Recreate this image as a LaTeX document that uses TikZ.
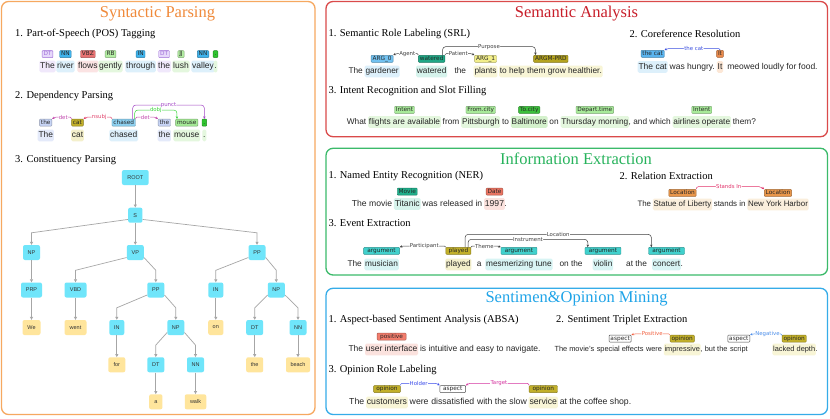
\documentclass[tikz,border=0pt]{standalone}
\usepackage{fontspec}
\setmainfont{Liberation Serif}
\setsansfont{Liberation Sans}
\newfontfamily\dejav{DejaVu Sans}
\usetikzlibrary{arrows.meta,calc,positioning}
% panel colours
\definecolor{orT}{HTML}{F08A3A}\definecolor{orB}{HTML}{F6A860}
\definecolor{rdT}{HTML}{C81E2A}\definecolor{rdB}{HTML}{DA4A4A}
\definecolor{gnT}{HTML}{27B35C}\definecolor{gnB}{HTML}{3BBA6A}
\definecolor{blT}{HTML}{1FA4E8}\definecolor{blB}{HTML}{35ACE8}
% highlight colours
\definecolor{hPur}{HTML}{F0E8FB}\definecolor{hLav}{HTML}{E4EAFA}
\definecolor{hBlu}{HTML}{DDF0FB}\definecolor{hRed}{HTML}{FBE3E3}
\definecolor{hGrn}{HTML}{E4F7DE}\definecolor{hGr2}{HTML}{D4F1CC}
\definecolor{hOli}{HTML}{F4F0CC}\definecolor{hTea}{HTML}{D6F3EC}
\definecolor{hYel}{HTML}{F8F5D6}\definecolor{hOra}{HTML}{FCE7D6}
\definecolor{hPnk}{HTML}{FBE2DE}\definecolor{hCya}{HTML}{D8F4F4}
\definecolor{hLoc}{HTML}{FAEEDC}
% tag colours
\definecolor{tPur}{HTML}{E6D8FA}\definecolor{vio}{HTML}{A070D8}
\definecolor{tBlu}{HTML}{3FB3EC}\definecolor{tRed}{HTML}{E87272}
\definecolor{tLgr}{HTML}{B4EEA4}\definecolor{tGrn}{HTML}{2FC42F}
\definecolor{tOli}{HTML}{C2B02A}\definecolor{tTea}{HTML}{1FA886}
\definecolor{tMov}{HTML}{20AF8B}\definecolor{tA0}{HTML}{72C2F1}
\definecolor{tYel}{HTML}{F2EE8A}\definecolor{tPrd}{HTML}{B4A31F}
\definecolor{tCat}{HTML}{5AB4EF}\definecolor{tIt}{HTML}{E98A4C}
\definecolor{tInt}{HTML}{A8EA9A}\definecolor{tTo}{HTML}{3CC03C}
\definecolor{tDate}{HTML}{EB7563}\definecolor{tLoc}{HTML}{E9964A}
\definecolor{tArg}{HTML}{40D0CC}\definecolor{tPos}{HTML}{F27D6D}
\definecolor{tThe}{HTML}{C8D5F6}\definecolor{tChs}{HTML}{8ED2F2}
\definecolor{tMou}{HTML}{A6EB98}
% arc colours
\definecolor{cDet}{HTML}{C24AAE}\definecolor{cNs}{HTML}{E2466E}
\definecolor{cDo}{HTML}{3DD63D}\definecolor{cPu}{HTML}{A347C6}
\definecolor{cSrl}{HTML}{404040}\definecolor{cCo}{HTML}{3B4FE0}
\definecolor{cRel}{HTML}{E2336B}\definecolor{cPosi}{HTML}{F2603F}
\definecolor{cNeg}{HTML}{4C8EEA}\definecolor{cHol}{HTML}{3A4BEA}
\definecolor{cTar}{HTML}{D535A0}
% tree
\definecolor{cyT}{HTML}{6FE5FA}\definecolor{ylT}{HTML}{FFE59C}
\newcommand\NLPArc[7][1.2pt]{\draw[arcst=#2, rounded corners=#1] (#3) -- ++(0,-#5) -- node[midway, lb=#2]{#7} ($(#4)+(#6,-#5)$) -- (#4);}
\begin{document}
\begin{tikzpicture}[x=1pt,y=-1pt,
 panel/.style={draw=#1, line width=1.3pt, rounded corners=7pt, fill=white},
 ptitle/.style={text=#1, font=\fontsize{16.5}{18}\selectfont, inner sep=0pt},
 sub/.style={anchor=west, inner sep=0pt, font=\fontsize{10.5}{12}\selectfont},
 wd/.style={anchor=base west, inner xsep=0.8pt, inner ysep=2pt, text height=6pt, text depth=1.8pt, rounded corners=1.5pt, font=\sffamily\fontsize{#1}{12}\selectfont, text=black!85},
 tg/.style={fill=#1, draw=#1!70!black, line width=0.4pt, rounded corners=0.8pt, inner xsep=1.4pt, inner ysep=0pt, text height=4.4pt, text depth=1.2pt, minimum height=7pt, font=\dejav\fontsize{5.8}{6}\selectfont, text=black!85},
 arcst/.style={draw=#1, line width=0.5pt, -{Stealth[length=2.6pt,width=2.4pt]}},
 lb/.style={text=#1, fill=white, inner sep=0.3pt, font=\dejav\fontsize{5.4}{6}\selectfont},
 cn/.style={fill=cyT, rounded corners=2pt, minimum width=17pt, minimum height=15pt, inner xsep=4.5pt, inner ysep=1pt, font=\sffamily\fontsize{5.5}{6}\selectfont, text=black!80},
 lf/.style={cn, fill=ylT},
 te/.style={draw=black!35, line width=0.7pt, -{Triangle[length=3pt,width=3pt]}}]
\useasboundingbox (0,0) rectangle (830,418);
\fill[white] (0,0) rectangle (830,418);
% panels
\draw[panel=orB] (1.5,1.5) rectangle (315,414.5);
\draw[panel=rdB] (326,1.5) rectangle (827.5,136.7);
\draw[panel=gnB] (326,148.3) rectangle (827.5,275);
\draw[panel=blB] (326,288.3) rectangle (827.5,414.5);
% titles
\node[ptitle=orT] (tS) at (157.5,13.5) {Syntactic Parsing};
\node[ptitle=rdT] (tA) at (576.5,14) {Semantic Analysis};
\node[ptitle=gnT] (tI) at (576,158.5) {Information Extraction};
\node[ptitle=blT] (tO) at (576.5,298.5) {Sentimen\&Opinion Mining};
% subtitles
\node[sub] (s1) at (15,34.3) {1. Part-of-Speech (POS) Tagging};
\node[sub] (s2) at (15,96) {2. Dependency Parsing};
\node[sub] (s3) at (15,160) {3. Constituency Parsing};
\node[sub] (s4) at (328.3,34.3) {1. Semantic Role Labeling (SRL)};
\node[sub] (s5) at (629.3,34.3) {2. Coreference Resolution};
\node[sub] (s6) at (328.3,90.7) {3. Intent Recognition and Slot Filling};
\node[sub] (s7) at (328.3,176) {1. Named Entity Recognition (NER)};
\node[sub] (s8) at (619.3,176) {2. Relation Extraction};
\node[sub] (s9) at (328.3,223.3) {3. Event Extraction};
\node[sub] (s10) at (328.3,320) {1. Aspect-based Sentiment Analysis (ABSA)};
\node[sub] (s11) at (556,320) {2. Sentiment Triplet Extraction};
\node[sub] (s12) at (328.3,370) {3. Opinion Role Labeling};
% ---------- POS
\node[wd=8.5,fill=hPur] (p1) at (39.2,68.5) {The};
\node[wd=8.5,fill=hBlu] (p2) at (56.2,68.5) {river};
\node[wd=8.5,fill=hRed] (p3) at (77.2,68.5) {flows};
\node[wd=8.5,fill=hGrn] (p4) at (98.2,68.5) {gently};
\node[wd=8.5,fill=hBlu] (p5) at (125.2,68.5) {through};
\node[wd=8.5,fill=hPur] (p6) at (157.2,68.5) {the};
\node[wd=8.5,fill=hGrn] (p7) at (172.2,68.5) {lush};
\node[wd=8.5,fill=hBlu] (p8) at (191.2,68.5) {valley};
\node[wd=8.5,fill=hGrn] (p9) at ([xshift=-1.6pt]p8.base east) {.};
\node[tg=tPur,draw=vio,text=vio,above=2.5pt of p1] (q1) {DT};
\node[tg=tBlu,above=2.5pt of p2] (q2) {NN};
\node[tg=tRed,above=2.5pt of p3] (q3) {VBZ};
\node[tg=tLgr,above=2.5pt of p4] (q4) {RB};
\node[tg=tBlu,above=2.5pt of p5] (q5) {IN};
\node[tg=tPur,draw=vio,text=vio,above=2.5pt of p6] (q6) {DT};
\node[tg=tLgr,above=2.5pt of p7] (q7) {JJ};
\node[tg=tBlu,above=2.5pt of p8] (q8) {NN};
\node[tg=tGrn,above=2.5pt of p9] (q9) {.};
% ---------- Dependency
\node[wd=8.4,fill=hLav] (d1) at (37.5,137.5) {The};
\node[wd=8.4,fill=hOli] (d2) at (70.9,137.5) {cat};
\node[wd=8.4,fill=hBlu] (d3) at (109.2,137.5) {chased};
\node[wd=8.4,fill=hLav] (d4) at (157.5,137.5) {the};
\node[wd=8.4,fill=hGrn] (d5) at (173.2,137.5) {mouse};
\node[wd=8.4,fill=hGrn] (d6) at (202.2,137.5) {.};
\node[tg=tThe,above=3pt of d1] (e1) {the};
\node[tg=tOli,above=3pt of d2] (e2) {cat};
\node[tg=tChs,above=3pt of d3] (e3) {chased};
\node[tg=tThe,above=3pt of d4] (e4) {the};
\node[tg=tMou,above=3pt of d5] (e5) {mouse};
\node[tg=tGrn,above=3pt of d6] (e6) {.};
\NLPArc{cDet}{e2.north west}{e1.north east}{1.8}{3}{det}
\NLPArc{cNs}{e3.north west}{e2.north east}{1.8}{3}{nsubj}
\NLPArc{cDet}{e3.north east}{e4.north west}{1.8}{-3}{det}
\NLPArc[3pt]{cDo}{[xshift=-1pt]e3.north east}{[xshift=1.5pt]e5.north west}{8.8}{0}{dobj}
\NLPArc[3pt]{cPu}{[xshift=-3pt]e3.north east}{e6.north}{13.8}{0}{punct}
% ---------- Constituency tree
\node[cn, minimum width=26.7pt] (R) at (135.3,177.5) {ROOT};
\node[cn, minimum width=14.3pt] (S) at (135.3,215.2) {S};
\node[cn] (NPa) at (31.5,252.5) {NP};
\node[cn] (VP) at (135.3,252.5) {VP};
\node[cn] (PPa) at (257,252.5) {PP};
\node[cn, minimum width=21pt] (PRP) at (31.5,290) {PRP};
\node[cn, minimum width=22pt] (VBD) at (75.5,290) {VBD};
\node[cn] (PPb) at (155.8,290) {PP};
\node[cn, minimum width=15pt] (INa) at (215.8,290) {IN};
\node[cn] (NPb) at (276.3,290) {NP};
\node[lf, minimum width=18pt] (We) at (31.5,327.5) {We};
\node[lf, minimum width=22pt] (went) at (75.5,327.5) {went};
\node[cn, minimum width=15pt] (INb) at (116.8,327.5) {IN};
\node[cn] (NPc) at (175.8,327.5) {NP};
\node[lf, minimum width=15pt] (on) at (215.8,327.5) {on};
\node[cn] (DTa) at (254.7,327.5) {DT};
\node[cn] (NNa) at (298,327.5) {NN};
\node[lf] (for) at (116.8,364.8) {for};
\node[cn] (DTb) at (155.8,364.8) {DT};
\node[cn] (NNb) at (195.5,364.8) {NN};
\node[lf] (theL) at (254.7,364.8) {the};
\node[lf, minimum width=24pt] (beach) at (298,364.8) {beach};
\node[lf, minimum width=13.3pt] (aL) at (155.8,401.8) {a};
\node[lf, minimum width=21.5pt] (walk) at (195.5,401.8) {walk};
\draw[te] (R) -- (S);
\draw[te] (S.210) -- ([yshift=12pt]NPa.north) -- (NPa.north);
\draw[te] (S) -- (VP);
\draw[te] (S.330) -- ([yshift=12pt]PPa.north) -- (PPa.north);
\draw[te] (NPa) -- (PRP);
\draw[te] (VP.210) -- ([yshift=12pt]VBD.north) -- (VBD.north);
\draw[te] (VP.330) -- ([yshift=12pt]PPb.north) -- (PPb.north);
\draw[te] (PPa.210) -- ([yshift=12pt]INa.north) -- (INa.north);
\draw[te] (PPa.330) -- ([yshift=12pt]NPb.north) -- (NPb.north);
\draw[te] (PRP) -- (We);
\draw[te] (VBD) -- (went);
\draw[te] (PPb.210) -- ([yshift=12pt]INb.north) -- (INb.north);
\draw[te] (PPb.330) -- ([yshift=12pt]NPc.north) -- (NPc.north);
\draw[te] (INa) -- (on);
\draw[te] (NPb.210) -- ([yshift=12pt]DTa.north) -- (DTa.north);
\draw[te] (NPb.330) -- ([yshift=12pt]NNa.north) -- (NNa.north);
\draw[te] (INb) -- (for);
\draw[te] (NPc.210) -- ([yshift=12pt]DTb.north) -- (DTb.north);
\draw[te] (NPc.330) -- ([yshift=12pt]NNb.north) -- (NNb.north);
\draw[te] (DTa) -- (theL);
\draw[te] (NNa) -- (beach);
\draw[te] (DTb) -- (aL);
\draw[te] (NNb) -- (walk);
% ---------- SRL
\node[wd=8.3] (r1) at (347.5,73.5) {The};
\node[wd=8.3,fill=hBlu] (r2) at ([xshift=0.7pt]r1.base east) {gardener};
\node[wd=8.3,fill=hTea] (r3) at (415.9,73.5) {watered};
\node[wd=8.3] (r4) at (453.5,73.5) {the};
\node[wd=8.3,fill=hYel] (r5) at (473.5,73.5) {plants};
\node[wd=8.3,fill=hYel] (r6) at ([xshift=1.2pt]r5.base east) {to help them grow healthier.};
\node[tg=tA0,above=2.8pt of r2] (a0) {ARG\_0};
\node[tg=tTea,above=2.8pt of r3] (aw) {watered};
\node[tg=tYel,above=2.8pt of r5] (a1) {ARG\_1};
\node[tg=tPrd,above=2.8pt of r6] (ap) {ARGM-PRD};
\NLPArc{cSrl}{aw.north west}{a0.north east}{1.5}{3}{Agent}
\NLPArc{cSrl}{aw.north east}{a1.north west}{1.5}{-3}{Patient}
\NLPArc[3pt]{cSrl}{[xshift=-2.5pt]aw.north east}{[xshift=2pt]ap.north west}{8.4}{0}{Purpose}
% ---------- Coreference
\node[wd=8.5,fill=hBlu] (c1) at (637.5,69) {The cat};
\node[wd=8.5] (c2) at ([xshift=0.8pt]c1.base east) {was hungry.};
\node[wd=8.5,fill=hOra] (c3) at ([xshift=0.8pt]c2.base east) {It};
\node[wd=8.5] (c4) at ([xshift=3pt]c3.base east) {meowed loudly for food.};
\node[tg=tCat,above=3.3pt of c1] (ct) {the cat};
\node[tg=tIt,above=3.3pt of c3] (ci) {It};
\NLPArc{cCo}{ci.north}{ct.north east}{1.5}{3}{the cat}
% ---------- Intent
\node[wd=8.3] (i1) at (345.9,124) {What};
\node[wd=8.3,fill=hGrn] (i2) at ([xshift=0.7pt]i1.base east) {flights are available};
\node[wd=8.3] (i3) at ([xshift=0.7pt]i2.base east) {from};
\node[wd=8.3,fill=hGrn] (i4) at ([xshift=0.7pt]i3.base east) {Pittsburgh};
\node[wd=8.3] (i5) at ([xshift=0.7pt]i4.base east) {to};
\node[wd=8.3,fill=hGr2] (i6) at ([xshift=0.7pt]i5.base east) {Baltimore};
\node[wd=8.3] (i7) at ([xshift=0.7pt]i6.base east) {on};
\node[wd=8.3,fill=hGrn] (i8) at ([xshift=0.7pt]i7.base east) {Thursday morning};
\node[wd=8.3] (i9) at ([xshift=-1.6pt]i8.base east) {, and which};
\node[wd=8.3,fill=hGrn] (i10) at ([xshift=0.7pt]i9.base east) {airlines operate};
\node[wd=8.3] (i11) at ([xshift=0.7pt]i10.base east) {them?};
\node[tg=tInt,above=2.2pt of i2] (j1) {Intent};
\node[tg=tInt,above=2.2pt of i4] (j2) {From.city};
\node[tg=tTo,above=2.2pt of i6] (j3) {To.city};
\node[tg=tInt,above=2.2pt of i8] (j4) {Depart.time};
\node[tg=tInt,above=2.2pt of i10] (j5) {Intent};
% ---------- NER
\node[wd=8.6] (n1) at (350.9,206) {The movie};
\node[wd=8.6,fill=hTea] (n2) at ([xshift=0.7pt]n1.base east) {Titanic};
\node[wd=8.6] (n3) at ([xshift=0.7pt]n2.base east) {was released in};
\node[wd=8.6,fill=hPnk] (n4) at ([xshift=0.7pt]n3.base east) {1997};
\node[wd=8.6] (n5) at ([xshift=-1.6pt]n4.base east) {.};
\node[tg=tMov,above=2.5pt of n2] (m1) {Movie};
\node[tg=tDate,above=2.5pt of n4] (m2) {Date};
% ---------- Relation
\node[wd=7.9] (l1) at (636.5,206.5) {The};
\node[wd=7.9,fill=hLoc] (l2) at ([xshift=0.6pt]l1.base east) {Statue of Liberty};
\node[wd=7.9] (l3) at ([xshift=0.6pt]l2.base east) {stands in};
\node[wd=7.9,fill=hLoc] (l4) at ([xshift=0.6pt]l3.base east) {New York Harbor};
\node[tg=tLoc,above=1.7pt of l2] (k1) {Location};
\node[tg=tLoc,above=1.7pt of l4] (k2) {Location};
\NLPArc[2pt]{cRel}{k1.north east}{k2.north west}{2.5}{-3}{Stands In}
% ---------- Event
\node[wd=8.3] (v1) at (346.5,266.5) {The};
\node[wd=8.3,fill=hCya] (v2) at (364.2,266.5) {musician};
\node[wd=8.3,fill=hOli] (v3) at (445.2,266.5) {played};
\node[wd=8.3] (v4) at (475.9,266.5) {a};
\node[wd=8.3,fill=hCya] (v5) at (485.2,266.5) {mesmerizing tune};
\node[wd=8.3] (v6) at (558.5,266.5) {on the};
\node[wd=8.3,fill=hCya] (v7) at (592.5,266.5) {violin};
\node[wd=8.3] (v8) at (625.2,266.5) {at the};
\node[wd=8.3,fill=hCya] (v9) at (651.9,266.5) {concert};
\node[wd=8.3] (v10) at ([xshift=-1.6pt]v9.base east) {.};
\node[tg=tArg,minimum width=36pt,above=3.7pt of v2] (g1) {argument};
\node[tg=tOli,minimum width=25pt,above=3.7pt of v3] (gp) {played};
\node[tg=tArg,minimum width=36pt,above=3.7pt of v5] (g2) {argument};
\node[tg=tArg,minimum width=36pt,above=3.7pt of v7] (g3) {argument};
\node[tg=tArg,minimum width=36pt,above=3.7pt of v9] (g4) {argument};
\NLPArc{cSrl}{gp.north west}{g1.north east}{1.2}{3}{Participant}
\NLPArc{cSrl}{gp.north east}{g2.north west}{1.2}{-3}{Theme}
\NLPArc[3pt]{cSrl}{[xshift=-3pt]gp.north east}{[xshift=3pt]g3.north west}{7.8}{0}{Instrument}
\NLPArc[3pt]{cSrl}{[xshift=-6pt]gp.north east}{[xshift=3pt]g4.north west}{12.8}{0}{Location}
% ---------- ABSA
\node[wd=8.5] (b1) at (347.5,351.5) {The};
\node[wd=8.5,fill=hPnk] (b2) at ([xshift=0.7pt]b1.base east) {user interface};
\node[wd=8.5] (b3) at ([xshift=0.7pt]b2.base east) {is intuitive and easy to navigate.};
\node[tg=tPos,minimum width=29pt,above=3pt of b2] (h1) {positive};
% ---------- Triplet
\node[wd=7.4] (u1) at (553.5,351.5) {The movie's};
\node[wd=7.4] (u2) at ([xshift=0.5pt]u1.base east) {special effects};
\node[wd=7.4] (u3) at ([xshift=0.5pt]u2.base east) {were};
\node[wd=7.4,fill=hYel] (u4) at ([xshift=0.5pt]u3.base east) {impressive};
\node[wd=7.4] (u5) at ([xshift=-1.6pt]u4.base east) {,};
\node[wd=7.4] (u6) at ([xshift=0.5pt]u5.base east) {but the};
\node[wd=7.4] (u7) at ([xshift=0.5pt]u6.base east) {script};
\node[wd=7.4,fill=hYel] (u8) at (772.2,351.5) {lacked depth};
\node[wd=7.4] (u9) at ([xshift=-1.6pt]u8.base east) {.};
\node[tg=white,draw=black!70,above=1pt of u2] (x1) {aspect};
\node[tg=tOli,above=1pt of u4] (y1) {opinion};
\node[tg=white,draw=black!70,above=1pt of u7] (x2) {aspect};
\node[tg=tOli,above=1pt of u8] (y2) {opinion};
\NLPArc{cPosi}{y1.north west}{x1.north east}{1}{3}{Positive}
\NLPArc{cNeg}{y2.north west}{x2.north east}{1}{3}{Negative}
% ---------- Opinion role
\node[wd=8.7] (o1) at (348.2,404.5) {The};
\node[wd=8.7,fill=hYel] (o2) at ([xshift=0.7pt]o1.base east) {customers};
\node[wd=8.7] (o3) at ([xshift=0.7pt]o2.base east) {were};
\node[wd=8.7] (o4) at ([xshift=0.7pt]o3.base east) {dissatisfied};
\node[wd=8.7] (o5) at ([xshift=0.7pt]o4.base east) {with the slow};
\node[wd=8.7,fill=hYel] (o6) at ([xshift=0.7pt]o5.base east) {service};
\node[wd=8.7] (o7) at ([xshift=0.7pt]o6.base east) {at the coffee shop.};
\node[tg=tOli,minimum width=26.7pt,above=3.5pt of o2] (z1) {opinion};
\node[tg=white,draw=black!70,minimum width=25.7pt,above=3.5pt of o4] (za) {aspect};
\node[tg=tOli,minimum width=28.3pt,above=3.5pt of o6] (z2) {opinion};
\NLPArc{cHol}{z1.north east}{za.north west}{2}{-3}{Holder}
\NLPArc{cTar}{z2.north west}{za.north east}{2}{3}{Target}
\end{tikzpicture}
\end{document}
